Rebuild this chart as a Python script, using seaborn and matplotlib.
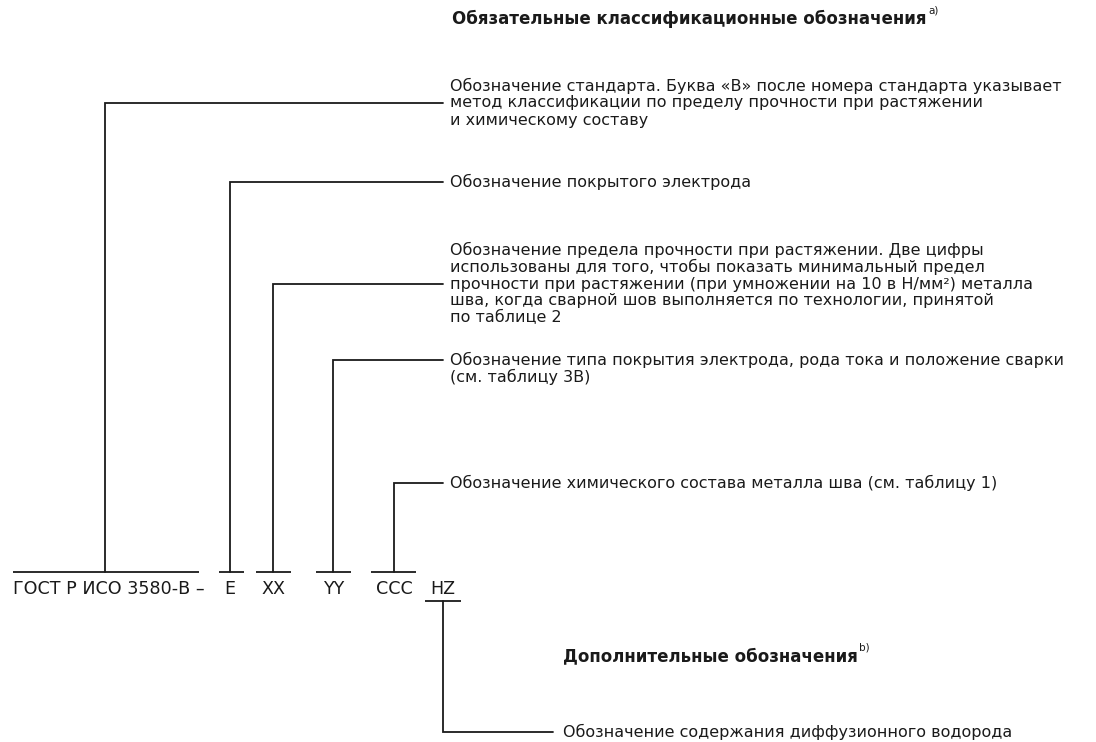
import matplotlib
matplotlib.use("Agg")
import matplotlib.pyplot as plt
import seaborn as sns

# ---------------- data (text content of the diagram) ----------------
code_parts = ["ГОСТ Р ИСО 3580-В –", "E", "XX", "YY", "CCC", "HZ"]
mandatory_heading = "Обязательные классификационные обозначения"
mandatory_note = "a)"
optional_heading = "Дополнительные обозначения"
optional_note = "b)"
descriptions = [
    ["Обозначение стандарта. Буква «В» после номера стандарта указывает",
     "метод классификации по пределу прочности при растяжении",
     "и химическому составу"],
    ["Обозначение покрытого электрода"],
    ["Обозначение предела прочности при растяжении. Две цифры",
     "использованы для того, чтобы показать минимальный предел",
     "прочности при растяжении (при умножении на 10 в Н/мм²) металла",
     "шва, когда сварной шов выполняется по технологии, принятой",
     "по таблице 2"],
    ["Обозначение типа покрытия электрода, рода тока и положение сварки",
     "(см. таблицу 3В)"],
    ["Обозначение химического состава металла шва (см. таблицу 1)"],
    ["Обозначение содержания диффузионного водорода"],
]
leader_line = [1, 0, 2, 0, 0, 0]

# ---------------- layout (pixel coordinates of the 1096x742 canvas) ----------------
W, H = 1096, 742
code_y = 589
underline_y = 572
hz_underline_y = 601
code_left = [13, None, None, None, None, None]
code_center = [112, 230, 273, 334, 394, 443]
underline_span = [(13, 199), (219, 244), (256, 291), (316, 351), (371, 416), (425, 461)]
leader_x = [105, 230, 273, 333, 394, 443]
block_top = [86, 182, 250, 360, 483, 732]
block_x = [450, 450, 450, 450, 450, 563]
line_end = [443, 443, 443, 443, 443, 553]
pitch = 17
fs = 11.5
code_fs = 12.6
ink = "#1a1a1a"
lw = 1.3

sns.set_theme(style="white")
plt.rcParams['font.family'] = ['DejaVu Sans']

fig = plt.figure(figsize=(W / 100, H / 100), dpi=100)
ax = fig.add_axes([0, 0, 1, 1])
ax.set_xlim(0, W)
ax.set_ylim(H, 0)
ax.axis("off")
fig.patch.set_facecolor("white")

# headings
t1 = ax.text(452, 19, mandatory_heading, fontsize=12, fontweight="bold",
             color=ink, ha="left", va="center")
ax.annotate(mandatory_note, xy=(1, 1), xycoords=t1, xytext=(1, 3),
            textcoords="offset points", fontsize=7.5, color=ink, va="top")
t2 = ax.text(563, 656, optional_heading, fontsize=12, fontweight="bold",
             color=ink, ha="left", va="center")
ax.annotate(optional_note, xy=(1, 1), xycoords=t2, xytext=(1, 3),
            textcoords="offset points", fontsize=7.5, color=ink, va="top")

# code string with underlines
for i, part in enumerate(code_parts):
    if code_left[i] is not None:
        ax.text(code_left[i], code_y, part, fontsize=code_fs, color=ink,
                ha="left", va="center")
    else:
        ax.text(code_center[i], code_y, part, fontsize=code_fs, color=ink,
                ha="center", va="center")
    ux0, ux1 = underline_span[i]
    uy = hz_underline_y if i == len(code_parts) - 1 else underline_y
    ax.plot([ux0, ux1], [uy, uy], color=ink, lw=lw, solid_capstyle="butt")

# description blocks and leader lines
for i, lines in enumerate(descriptions):
    for k, line in enumerate(lines):
        ax.text(block_x[i], block_top[i] + k * pitch, line, fontsize=fs,
                color=ink, ha="left", va="center")
    ly = block_top[i] + leader_line[i] * pitch
    uy = hz_underline_y if i == len(descriptions) - 1 else underline_y
    ax.plot([leader_x[i], leader_x[i], line_end[i]], [uy, ly, ly],
            color=ink, lw=lw, solid_joinstyle="miter")

fig.savefig("out.png", dpi=100, facecolor="white")
